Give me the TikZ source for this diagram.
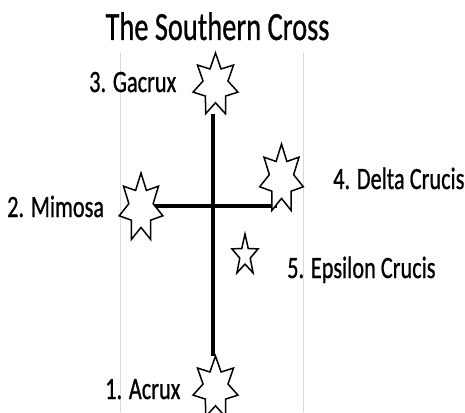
\documentclass[tikz,border=0pt]{standalone}
\usepackage{fontspec}
\setmainfont[FakeBold=0.9]{Carlito}
\usepackage{graphicx}
\usetikzlibrary{shapes.geometric}
\pgfdeclarelayer{background}
\pgfsetlayers{background,main}
\begin{document}
\begin{tikzpicture}[x=1pt,y=-1pt,
  lbl/.style={inner sep=0pt, anchor=base west, font=\fontsize{31}{31}\selectfont},
  ttl/.style={inner sep=0pt, anchor=base, font=\fontsize{40}{40}\selectfont},
  sevenstar/.style={star, star points=7, star point ratio=1.8, draw=black, fill=white, line width=1.5pt, inner sep=0pt, outer sep=0pt, transform shape},
  fivestar/.style={star, star points=5, star point ratio=2.5, draw=black, fill=white, line width=1.5pt, inner sep=0pt, outer sep=0pt, transform shape},
  bar/.style={line width=4.5pt, black},
  guide/.style={draw=gray!30, line width=0.8pt}]
\useasboundingbox (0,0) rectangle (465,412);

% title
\node[ttl] (title) at (217.5,40) {\scalebox{0.71}[1]{The Southern Cross}};

% stars
\begin{scope}[shift={(215.5,85)}]
  \node[sevenstar, xscale=0.72, minimum size=64pt] (gacrux) {};
\end{scope}
\begin{scope}[shift={(215.5,388)}]
  \node[sevenstar, xscale=0.72, minimum size=64pt] (acrux) {};
\end{scope}
\begin{scope}[shift={(141,208)}]
  \node[sevenstar, xscale=0.64, minimum size=70pt] (mimosa) {};
\end{scope}
\begin{scope}[shift={(281.5,179)}]
  \node[sevenstar, xscale=0.64, minimum size=70pt] (delta) {};
\end{scope}
\begin{scope}[shift={(245,255.5)}]
  \node[fivestar, xscale=0.64, minimum size=43pt] (epsilon) {};
\end{scope}

% labels
\node[lbl] (lgacrux) at (89,92) {\scalebox{0.72}[1]{3. Gacrux}};
\node[lbl] (lmimosa) at (7,217) {\scalebox{0.72}[1]{2. Mimosa}};
\node[lbl] (ldelta) at (333,189) {\scalebox{0.72}[1]{4. Delta Crucis}};
\node[lbl] (lepsilon) at (287,278) {\scalebox{0.72}[1]{5. Epsilon Crucis}};
\node[lbl] (lacrux) at (105,399) {\scalebox{0.72}[1]{1. Acrux}};

% connectors and guides behind the stars
\coordinate (hend) at (277,206);
\begin{pgfonlayer}{background}
  \fill[white] (0,0) rectangle (465,412);
  \draw[guide] (120,53) -- (120,412);
  \draw[guide] (303,53) -- (303,412);
  \draw[bar, transform canvas={xshift=-2.5pt}] (gacrux.outer point 4 -| gacrux.center) -- (acrux.outer point 1);
  \draw[bar] (mimosa.center |- hend) -- (hend);
\end{pgfonlayer}
\end{tikzpicture}
\end{document}
